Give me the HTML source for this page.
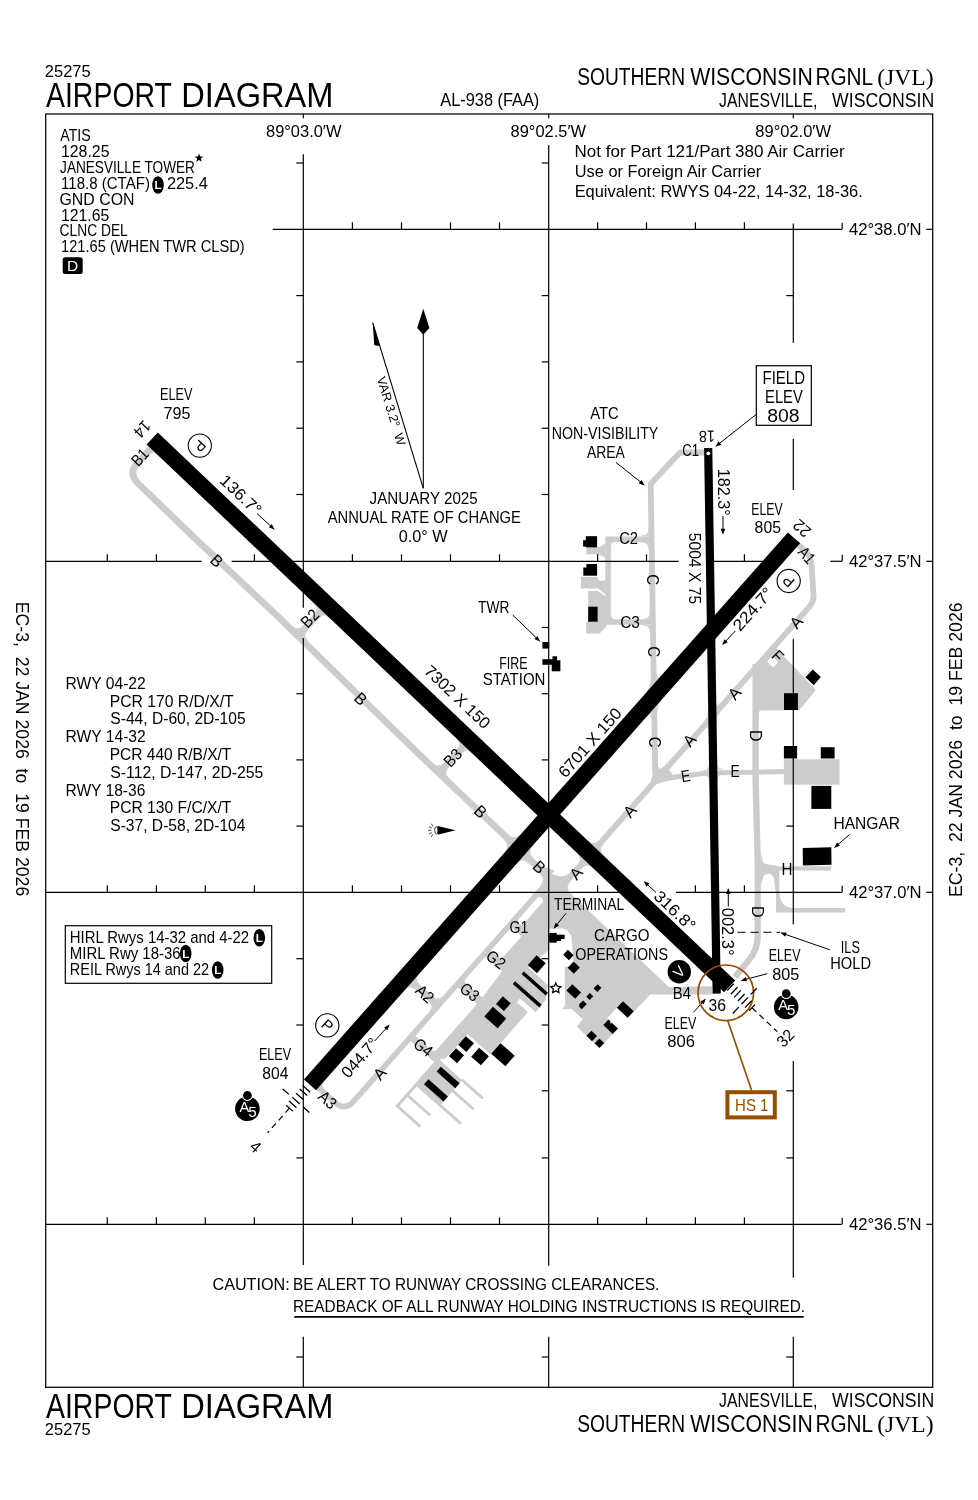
<!DOCTYPE html><html><head><meta charset="utf-8"><title>Airport Diagram JVL</title><style>html,body{margin:0;padding:0;background:#fff}svg text{white-space:pre}</style></head><body><svg width="978" height="1500" viewBox="0 0 978 1500" style="display:block;will-change:transform">
<rect x="0" y="0" width="978" height="1500" fill="#fff"/>
<g stroke-linejoin="round" stroke-linecap="butt">
<path d="M153.11,446.26 L137.83,462.36 Q127.5,473.24 138.29,483.66 L195.14,538.53 L277.38,616.02 L311.06,648.81 L380.39,716.67 L420.53,755.72 L628.61,953.39" stroke="#cccccc" stroke-width="6.7" fill="none" />
<path d="M153.37,450.78 L157,454.22 Q153.37,450.78 149.93,454.4 Z" fill="#cccccc" stroke="#cccccc" stroke-width="0.4"/>
<path d="M297.8,635.9 L323.94,608.36" stroke="#cccccc" stroke-width="6.6" fill="none" />
<path d="M297.72,631.2 L292.64,626.38 Q297.72,631.2 302.53,626.12 Z" fill="#cccccc" stroke="#cccccc" stroke-width="0.4"/>
<path d="M319.41,608.34 L314.33,603.52 Q319.41,608.34 314.59,613.42 Z" fill="#cccccc" stroke="#cccccc" stroke-width="0.4"/>
<path d="M302.5,635.74 L307.58,640.56 Q302.5,635.74 307.32,630.67 Z" fill="#cccccc" stroke="#cccccc" stroke-width="0.4"/>
<path d="M324.2,612.88 L329.27,617.7 Q324.2,612.88 319.38,617.96 Z" fill="#cccccc" stroke="#cccccc" stroke-width="0.4"/>
<path d="M438.65,772.94 L466.47,743.63" stroke="#cccccc" stroke-width="6.6" fill="none" />
<path d="M438.57,768.24 L433.49,763.42 Q438.57,768.24 443.38,763.16 Z" fill="#cccccc" stroke="#cccccc" stroke-width="0.4"/>
<path d="M461.94,743.6 L456.87,738.78 Q461.94,743.6 457.13,748.68 Z" fill="#cccccc" stroke="#cccccc" stroke-width="0.4"/>
<path d="M443.35,772.78 L448.43,777.6 Q443.35,772.78 448.17,767.7 Z" fill="#cccccc" stroke="#cccccc" stroke-width="0.4"/>
<path d="M466.73,748.15 L471.81,752.97 Q466.73,748.15 461.91,753.22 Z" fill="#cccccc" stroke="#cccccc" stroke-width="0.4"/>
<path d="M796.09,542.99 L807.32,552.92 Q811.2,558.5 811.6,566 L813.5,595 Q813.8,600.5 810.34,605.66 L559.88,888.78" stroke="#cccccc" stroke-width="5.8" fill="none" />
<path d="M552.34,876.77 L353.57,1101.46 Q344.96,1111.2 335.22,1102.59 L316.04,1085.63" stroke="#cccccc" stroke-width="5.6" fill="none" />
<path d="M320.22,1085.58 L323.53,1081.84 Q320.22,1085.58 323.97,1088.89 Z" fill="#cccccc" stroke="#cccccc" stroke-width="0.4"/>
<path d="M438.38,1005.59 L409.47,980.02" stroke="#cccccc" stroke-width="6.6" fill="none" />
<path d="M438.54,1001.33 L443.18,996.09 Q438.54,1001.33 433.3,996.7 Z" fill="#cccccc" stroke="#cccccc" stroke-width="0.4"/>
<path d="M413.98,979.6 L418.62,974.36 Q413.98,979.6 419.22,984.24 Z" fill="#cccccc" stroke="#cccccc" stroke-width="0.4"/>
<path d="M434.17,1006.28 L429.53,1011.52 Q434.17,1006.28 428.93,1001.64 Z" fill="#cccccc" stroke="#cccccc" stroke-width="0.4"/>
<path d="M409.6,984.54 L404.97,989.79 Q409.6,984.54 414.85,989.18 Z" fill="#cccccc" stroke="#cccccc" stroke-width="0.4"/>
<path d="M526.81,852.05 L533.34,858.25 Q526.81,852.05 532.77,845.31 Z" fill="#cccccc" stroke="#cccccc" stroke-width="0.4"/>
<path d="M515.05,840.9 L508.52,834.7 Q515.05,840.9 521.02,834.15 Z" fill="#cccccc" stroke="#cccccc" stroke-width="0.4"/>
<path d="M522.37,857.08 L528.9,863.27 Q522.37,857.08 516.41,863.82 Z" fill="#cccccc" stroke="#cccccc" stroke-width="0.4"/>
<path d="M510.61,845.92 L504.08,839.72 Q510.61,845.92 504.65,852.66 Z" fill="#cccccc" stroke="#cccccc" stroke-width="0.4"/>
<path d="M597.85,850.24 L603.15,844.24 Q597.85,850.24 603.65,855.74 Z" fill="#cccccc" stroke="#cccccc" stroke-width="0.4"/>
<path d="M587.11,862.38 L581.81,868.37 Q587.11,862.38 592.91,867.88 Z" fill="#cccccc" stroke="#cccccc" stroke-width="0.4"/>
<path d="M593.64,846.24 L598.94,840.25 Q593.64,846.24 587.83,840.73 Z" fill="#cccccc" stroke="#cccccc" stroke-width="0.4"/>
<path d="M582.9,858.38 L577.6,864.37 Q582.9,858.38 577.09,852.88 Z" fill="#cccccc" stroke="#cccccc" stroke-width="0.4"/>
<path d="M716.46,716.16 L719.77,712.41 Q716.46,716.16 716.54,721.15 Z" fill="#cccccc" stroke="#cccccc" stroke-width="0.4"/>
<path d="M708.5,725.15 L705.19,728.9 Q708.5,725.15 708.58,730.15 Z" fill="#cccccc" stroke="#cccccc" stroke-width="0.4"/>
<path d="M716.33,707.55 L719.64,703.81 Q716.33,707.55 716.25,702.56 Z" fill="#cccccc" stroke="#cccccc" stroke-width="0.4"/>
<path d="M708.37,716.55 L705.05,720.3 Q708.37,716.55 708.29,711.55 Z" fill="#cccccc" stroke="#cccccc" stroke-width="0.4"/>
<path d="M717.3,769.47 L723.28,768.99 Q717.3,769.47 717.2,763.47 Z" fill="#cccccc" stroke="#cccccc" stroke-width="0.4"/>
<path d="M709.21,770.12 L703.23,770.59 Q709.21,770.12 709.11,764.12 Z" fill="#cccccc" stroke="#cccccc" stroke-width="0.4"/>
<path d="M717.38,774.48 L723.36,774 Q717.38,774.48 717.47,780.48 Z" fill="#cccccc" stroke="#cccccc" stroke-width="0.4"/>
<path d="M709.29,775.13 L703.3,775.6 Q709.29,775.13 709.38,781.12 Z" fill="#cccccc" stroke="#cccccc" stroke-width="0.4"/>
<path d="M657.17,704.69 L657.28,711.69 Q657.17,704.69 661.81,699.45 Z" fill="#cccccc" stroke="#cccccc" stroke-width="0.4"/>
<path d="M656.8,680.67 L656.69,673.67 Q656.8,680.67 661.43,675.43 Z" fill="#cccccc" stroke="#cccccc" stroke-width="0.4"/>
<path d="M651.08,711.58 L651.19,718.58 Q651.08,711.58 646.44,716.82 Z" fill="#cccccc" stroke="#cccccc" stroke-width="0.4"/>
<path d="M650.7,687.56 L650.59,680.56 Q650.7,687.56 646.07,692.8 Z" fill="#cccccc" stroke="#cccccc" stroke-width="0.4"/>
<path d="M564.46,887.97 L570.43,881.23 Q564.46,887.97 570.99,894.17 Z" fill="#cccccc" stroke="#cccccc" stroke-width="0.4"/>
<path d="M560.25,883.98 L571.52,871.24 Q560.25,883.98 541.4,866.08 Z" fill="#cccccc" stroke="#cccccc" stroke-width="0.4"/>
<path d="M546.16,879.69 L539.63,873.49 Q546.16,879.69 540.19,886.43 Z" fill="#cccccc" stroke="#cccccc" stroke-width="0.4"/>
<path d="M705,452.5 L680,452.5 L650.7,483.7 L655.2,772" stroke="#cccccc" stroke-width="5.8" fill="none" />
<path d="M652,539.2 L608.1,539.2 L608.1,622 L653,622" stroke="#cccccc" stroke-width="5.6" fill="none" stroke-linejoin="miter"/>
<path d="M648.5,536 L648.5,529 Q648.5,536 641.5,536 Z" fill="#cccccc" stroke="#cccccc" stroke-width="0.4"/>
<path d="M648.5,542 L648.5,549 Q648.5,542 641.5,542 Z" fill="#cccccc" stroke="#cccccc" stroke-width="0.4"/>
<path d="M649.81,619.3 L649.81,612.3 Q649.81,619.3 642.81,619.3 Z" fill="#cccccc" stroke="#cccccc" stroke-width="0.4"/>
<path d="M649.81,625.3 L649.81,632.3 Q649.81,625.3 642.81,625.3 Z" fill="#cccccc" stroke="#cccccc" stroke-width="0.4"/>
<path d="M610.8,541.9 L614.8,541.9 Q610.8,541.9 610.8,545.9 Z" fill="#cccccc" stroke="#cccccc" stroke-width="0.4"/>
<path d="M610.8,619.3 L614.8,619.3 Q610.8,619.3 610.8,615.3 Z" fill="#cccccc" stroke="#cccccc" stroke-width="0.4"/>
<polygon points="586.4,547.4 597.1,547.4 601,546.3 605.5,543.5 605.5,558.3 601,555.6 597.1,554.3 586.4,554.3" fill="#cccccc" />
<polygon points="581,577 597.3,577 598.5,579.8 601.5,581 605.5,580 605.5,594.5 598,588.5 581,588.5" fill="#cccccc" />
<polygon points="588.2,591 597.6,591 606.3,596.7 606.3,626.5 599.7,633.5 586.2,633.5 586.2,621.5 588.2,621.5" fill="#cccccc" />
<path d="M657,779.5 L707,773 L786,771.5" stroke="#cccccc" stroke-width="5" fill="none" />
<polygon points="652.4,766 657.9,766 659.5,769 664.5,766.5 671,772 673,775.5 679,777 663,782.3 655,784.5 650.5,781.5 652.4,776" fill="#cccccc" />
<path d="M755.6,664 L755.6,780 L757.7,860 L757.7,936 Q757.7,950 749,960 L735,977" stroke="#cccccc" stroke-width="6.3" fill="none" />
<path d="M760.5,848 Q761.5,861 764.2,863.6 L779.4,866.4 L831.1,866.2 L831.1,870.4 L779.4,870.6 L779.4,893 Q780.5,906.5 792,908 L845.2,908 L845.2,912.5 L776,912.5 L776,894 L773.7,877 Q771,873.3 768.5,873.9 Q765,874.5 764.2,875 Q762,880 760.5,887 Z" stroke="none" stroke-width="0" fill="#cccccc" />
<polygon points="757,710.4 757,666 772,644 776.6,648.4 815.9,690.1 799.3,710.2" fill="#cccccc" />
<path d="M758.7,710.4 L761.2,710.4 Q758.7,710.4 758.7,712.9 Z" fill="#cccccc" stroke="#cccccc" stroke-width="0.4"/>
<rect x="-4.3" y="-3.9" width="8.6" height="7.8" rx="2" fill="#fff" transform="translate(772.6,661.9) rotate(42)"/>
<polygon points="783.9,759.2 839.6,759.2 839.6,784.7 783.9,784.7" fill="#cccccc" />
</g>
<g>
<polygon points="540.21,864.95 576.48,899.37 548.7,900 548.7,950 527.52,929.58 543.54,890.34 550.55,875.18 554.52,870.68" fill="#cccccc" />
<polygon points="548.7,893 548.7,950 528.44,967.78 445.45,1058.58 441.21,1058.84 433.7,1052.19 416.99,1033.4 547.52,885.85" fill="#cccccc" />
<polygon points="413.5,1034.32 408.86,1039.56 434.33,1062.09 438.97,1056.85" fill="#cccccc" />
<polygon points="527.7,967.11 547.92,985 545.96,999.29 535.78,1012.31 520.05,998.4 516.73,1002.14 527.97,1012.08 490.53,1054.4 467.31,1033.86" fill="#cccccc" />
<polygon points="437.64,1058.35 414.78,1084.19 439.5,1106.05 462.36,1080.21" fill="#cccccc" />
<path d="M440.09,1057.84 L397.02,1106.53" stroke="#cccccc" stroke-width="3" fill="none" />
<path d="M396.23,1105.16 L420.5,1126.63" stroke="#cccccc" stroke-width="2.8" fill="none" />
<path d="M406.1,1094 L430.37,1115.47" stroke="#cccccc" stroke-width="2.8" fill="none" />
<path d="M415.44,1083.44 L461.13,1123.86" stroke="#cccccc" stroke-width="2.8" fill="none" />
<path d="M452.13,1090.26 L473.55,1109.21" stroke="#cccccc" stroke-width="2.8" fill="none" />
<path d="M461.61,1079.55 L483.03,1098.5" stroke="#cccccc" stroke-width="2.8" fill="none" />
<polygon points="539.48,900.37 521.19,921.04 521.49,921.3 539.78,900.63" fill="#fff" stroke="#fff" stroke-width="6.4" stroke-linejoin="round"/>
<polygon points="511.56,930.41 493.94,950.34 500.83,956.43 518.45,936.51" fill="#fff" stroke="#fff" stroke-width="4.4" stroke-linejoin="round"/>
<polygon points="485.72,959.62 466.77,981.04 481.9,994.43 499.2,971.55" fill="#fff" stroke="#fff" stroke-width="4.4" stroke-linejoin="round"/>
<polygon points="458.56,990.33 419.07,1034.97 434.57,1048.69 474.06,1004.05" fill="#fff" stroke="#fff" stroke-width="4.4" stroke-linejoin="round"/>
<polygon points="558.34,882.16 668.82,987 712,986.3 712,994.5 650.23,994.52 627.86,1018.1 616.98,1007.77 607,1018.29 617.88,1028.61 599.43,1048.05 576.95,1026.71 582.76,1019.14 571.17,1008.69 562.2,1009.3 565.2,1004.7 564.6,966.6 573.8,967.2 572.6,949.4 571.4,936 567.5,930.5 563,928.6 548.7,928.8 548.7,880" fill="#cccccc" />
</g>
<g fill="#000">
<polygon points="536.6,955.23 527.86,965.12 536.99,973.2 545.74,963.32" fill="#000" />
<polygon points="523.85,971.46 521.53,974.08 545.65,995.42 547.97,992.79" fill="#000" />
<polygon points="515.11,981.35 512.79,983.97 539.38,1007.49 541.7,1004.87" fill="#000" />
<polygon points="502.78,996.34 496.02,1003.98 503.96,1011 510.72,1003.36" fill="#000" />
<polygon points="492.93,1006.72 484.31,1016.46 497.65,1028.25 506.26,1018.51" fill="#000" />
<polygon points="500.47,1043.17 491.19,1053.65 505.43,1066.24 514.7,1055.76" fill="#000" />
<polygon points="465.82,1036.15 458.14,1044.84 466.3,1052.06 473.99,1043.37" fill="#000" />
<polygon points="456,1048.15 448.98,1056.09 456.99,1063.18 464.02,1055.24" fill="#000" />
<polygon points="479.14,1047.66 471.19,1056.65 480.92,1065.26 488.88,1056.27" fill="#000" />
<polygon points="440.85,1066.79 436.61,1071.59 455.33,1088.15 459.58,1083.36" fill="#000" />
<polygon points="428.44,1079.31 424,1084.33 443.47,1101.56 447.91,1096.54" fill="#000" />
<polygon points="567.86,949.71 573.66,955.22 568.98,960.15 563.17,954.64" fill="#000" />
<polygon points="573.54,961.59 579.78,967.51 573.86,973.74 567.62,967.82" fill="#000" />
<polygon points="572.3,984.25 581.07,992.58 575.15,998.82 566.38,990.49" fill="#000" />
<polygon points="597.62,984.16 601.46,987.81 597.4,992.08 593.56,988.44" fill="#000" />
<polygon points="589.86,993.06 593.27,996.3 589.69,1000.07 586.28,996.83" fill="#000" />
<polygon points="583.05,1000.38 586.75,1003.89 581.72,1009.19 579.25,1006.85 579.26,1004.37" fill="#000" />
<polygon points="623.03,1001.25 633.7,1011.36 627.57,1017.82 616.91,1007.7" fill="#000" />
<polygon points="608.52,1019.59 610.7,1021.66 609.73,1022.67 610.82,1023.71 611.78,1022.69 617.95,1028.54 612.72,1034.05 603.29,1025.11" fill="#000" />
<polygon points="591.41,1030.65 596.99,1035.95 592.04,1041.17 586.45,1035.87" fill="#000" />
<polygon points="599.32,1038.44 604.18,1043.05 599.5,1047.98 594.64,1043.37" fill="#000" />
<rect x="549.3" y="934.7" width="15.3" height="4.3"/>
<rect x="549.3" y="939" width="11.7" height="1.9"/>
<rect x="549.3" y="932.9" width="7.4" height="9.8"/>
<rect x="542.4" y="642" width="6.8" height="6.6"/>
<rect x="542.4" y="659.2" width="13.4" height="5.6"/>
<rect x="551.7" y="660.3" width="8.7" height="11"/>
<rect x="552.5" y="656.3" width="4.6" height="4.2"/>
<rect x="585.8" y="536.2" width="11.3" height="11.2"/>
<rect x="583.1" y="540.2" width="2.9" height="6.4"/>
<rect x="583.3" y="567.5" width="13.8" height="8.2"/>
<rect x="586.4" y="564" width="10.7" height="4"/>
<rect x="588.2" y="606.7" width="9.4" height="15"/>
<polygon points="812.8,669.5 820.8,676.9 813.7,685.2 805.5,677.2" fill="#000" />
<rect x="784" y="693.2" width="13.9" height="16.8"/>
<rect x="783.9" y="746" width="13.2" height="12.5"/>
<rect x="820.8" y="747.2" width="13.8" height="11.3"/>
<rect x="811.4" y="785.9" width="19.9" height="23"/>
<polygon points="802.7,848 831.3,847.3 831.5,864.8 802.9,865.6" fill="#000" />
</g>
<g stroke="#000" stroke-width="1.2" fill="none">
<rect x="45.7" y="114" width="887" height="1273.3" stroke-width="1.25"/>
<line x1="303.3" y1="114" x2="303.3" y2="118.3"/>
<line x1="303.3" y1="154.3" x2="303.3" y2="607.8"/>
<line x1="303.3" y1="638" x2="303.3" y2="1265"/>
<line x1="303.3" y1="1336.7" x2="303.3" y2="1387.3"/>
<line x1="548.7" y1="114" x2="548.7" y2="118.3"/>
<line x1="548.7" y1="145" x2="548.7" y2="1265.7"/>
<line x1="548.7" y1="1336.7" x2="548.7" y2="1387.3"/>
<line x1="793.3" y1="114" x2="793.3" y2="118.3"/>
<line x1="793.3" y1="223.5" x2="793.3" y2="342.7"/>
<line x1="793.3" y1="438.7" x2="793.3" y2="490"/>
<line x1="793.3" y1="639" x2="793.3" y2="924.3"/>
<line x1="793.3" y1="1061" x2="793.3" y2="1277.7"/>
<line x1="793.3" y1="1336.7" x2="793.3" y2="1387.3"/>
<line x1="272.7" y1="229.3" x2="842" y2="229.3"/>
<line x1="45.7" y1="561.3" x2="201.7" y2="561.3"/>
<line x1="231.7" y1="561.3" x2="678.7" y2="561.3"/>
<line x1="713" y1="561.3" x2="765" y2="561.3"/>
<line x1="830.3" y1="561.3" x2="842" y2="561.3"/>
<line x1="45.7" y1="892.3" x2="622" y2="892.3"/>
<line x1="676" y1="892.3" x2="842" y2="892.3"/>
<line x1="45.7" y1="1224.3" x2="842" y2="1224.3"/>
<line x1="926.3" y1="229.3" x2="932.7" y2="229.3"/>
<line x1="842.2" y1="229.3" x2="842.2" y2="222.8"/>
<line x1="926.3" y1="561.3" x2="932.7" y2="561.3"/>
<line x1="842.2" y1="561.3" x2="842.2" y2="554.8"/>
<line x1="926.3" y1="892.3" x2="932.7" y2="892.3"/>
<line x1="842.2" y1="892.3" x2="842.2" y2="885.8"/>
<line x1="926.3" y1="1224.3" x2="932.7" y2="1224.3"/>
<line x1="842.2" y1="1224.3" x2="842.2" y2="1217.8"/>
<line x1="352.4" y1="229.3" x2="352.4" y2="222.3"/>
<line x1="401.5" y1="229.3" x2="401.5" y2="222.3"/>
<line x1="450.5" y1="229.3" x2="450.5" y2="222.3"/>
<line x1="499.5" y1="229.3" x2="499.5" y2="222.3"/>
<line x1="597.6" y1="229.3" x2="597.6" y2="222.3"/>
<line x1="646.5" y1="229.3" x2="646.5" y2="222.3"/>
<line x1="695.4" y1="229.3" x2="695.4" y2="222.3"/>
<line x1="744.4" y1="229.3" x2="744.4" y2="222.3"/>
<line x1="107.3" y1="561.3" x2="107.3" y2="554.3"/>
<line x1="156.4" y1="561.3" x2="156.4" y2="554.3"/>
<line x1="254.4" y1="561.3" x2="254.4" y2="554.3"/>
<line x1="352.4" y1="561.3" x2="352.4" y2="554.3"/>
<line x1="401.5" y1="561.3" x2="401.5" y2="554.3"/>
<line x1="450.5" y1="561.3" x2="450.5" y2="554.3"/>
<line x1="499.5" y1="561.3" x2="499.5" y2="554.3"/>
<line x1="597.6" y1="561.3" x2="597.6" y2="554.3"/>
<line x1="646.5" y1="561.3" x2="646.5" y2="554.3"/>
<line x1="744.4" y1="561.3" x2="744.4" y2="554.3"/>
<line x1="107.3" y1="892.3" x2="107.3" y2="885.3"/>
<line x1="156.4" y1="892.3" x2="156.4" y2="885.3"/>
<line x1="205.3" y1="892.3" x2="205.3" y2="885.3"/>
<line x1="254.4" y1="892.3" x2="254.4" y2="885.3"/>
<line x1="352.4" y1="892.3" x2="352.4" y2="885.3"/>
<line x1="401.5" y1="892.3" x2="401.5" y2="885.3"/>
<line x1="450.5" y1="892.3" x2="450.5" y2="885.3"/>
<line x1="499.5" y1="892.3" x2="499.5" y2="885.3"/>
<line x1="597.6" y1="892.3" x2="597.6" y2="885.3"/>
<line x1="695.4" y1="892.3" x2="695.4" y2="885.3"/>
<line x1="744.4" y1="892.3" x2="744.4" y2="885.3"/>
<line x1="107.3" y1="1224.3" x2="107.3" y2="1217.3"/>
<line x1="156.4" y1="1224.3" x2="156.4" y2="1217.3"/>
<line x1="205.3" y1="1224.3" x2="205.3" y2="1217.3"/>
<line x1="254.4" y1="1224.3" x2="254.4" y2="1217.3"/>
<line x1="352.4" y1="1224.3" x2="352.4" y2="1217.3"/>
<line x1="401.5" y1="1224.3" x2="401.5" y2="1217.3"/>
<line x1="450.5" y1="1224.3" x2="450.5" y2="1217.3"/>
<line x1="499.5" y1="1224.3" x2="499.5" y2="1217.3"/>
<line x1="597.6" y1="1224.3" x2="597.6" y2="1217.3"/>
<line x1="646.5" y1="1224.3" x2="646.5" y2="1217.3"/>
<line x1="695.4" y1="1224.3" x2="695.4" y2="1217.3"/>
<line x1="744.4" y1="1224.3" x2="744.4" y2="1217.3"/>
<line x1="296.3" y1="163" x2="303.3" y2="163"/>
<line x1="296.3" y1="295.6" x2="303.3" y2="295.6"/>
<line x1="296.3" y1="361.9" x2="303.3" y2="361.9"/>
<line x1="296.3" y1="428.2" x2="303.3" y2="428.2"/>
<line x1="296.3" y1="494.5" x2="303.3" y2="494.5"/>
<line x1="296.3" y1="693.7" x2="303.3" y2="693.7"/>
<line x1="296.3" y1="759.9" x2="303.3" y2="759.9"/>
<line x1="296.3" y1="826.1" x2="303.3" y2="826.1"/>
<line x1="296.3" y1="958.7" x2="303.3" y2="958.7"/>
<line x1="296.3" y1="1025" x2="303.3" y2="1025"/>
<line x1="296.3" y1="1157.9" x2="303.3" y2="1157.9"/>
<line x1="296.3" y1="1357" x2="303.3" y2="1357"/>
<line x1="541.7" y1="163" x2="548.7" y2="163"/>
<line x1="541.7" y1="295.6" x2="548.7" y2="295.6"/>
<line x1="541.7" y1="361.9" x2="548.7" y2="361.9"/>
<line x1="541.7" y1="428.2" x2="548.7" y2="428.2"/>
<line x1="541.7" y1="494.5" x2="548.7" y2="494.5"/>
<line x1="541.7" y1="627.5" x2="548.7" y2="627.5"/>
<line x1="541.7" y1="693.7" x2="548.7" y2="693.7"/>
<line x1="541.7" y1="759.9" x2="548.7" y2="759.9"/>
<line x1="541.7" y1="958.7" x2="548.7" y2="958.7"/>
<line x1="541.7" y1="1025" x2="548.7" y2="1025"/>
<line x1="541.7" y1="1090.8" x2="548.7" y2="1090.8"/>
<line x1="541.7" y1="1157.9" x2="548.7" y2="1157.9"/>
<line x1="541.7" y1="1357" x2="548.7" y2="1357"/>
<line x1="786.3" y1="295.6" x2="793.3" y2="295.6"/>
<line x1="786.3" y1="826.1" x2="793.3" y2="826.1"/>
<line x1="786.3" y1="1090.8" x2="793.3" y2="1090.8"/>
<line x1="786.3" y1="1157.9" x2="793.3" y2="1157.9"/>
<line x1="786.3" y1="1357" x2="793.3" y2="1357"/>
</g>
<g stroke="#000" fill="none">
<line x1="152.2" y1="438.5" x2="729.6" y2="986.43" stroke-width="16.3"/>
<line x1="794" y1="537.8" x2="309.98" y2="1084.93" stroke-width="16.3"/>
<line x1="708.2" y1="448" x2="716.7" y2="993.6" stroke-width="8.2"/>
</g>
<circle cx="708.3" cy="453.3" r="1.9" fill="#fff"/>
<text x="44.87" y="76.7" font-family="Liberation Sans" font-size="16.4" fill="#000" textLength="45.82" lengthAdjust="spacingAndGlyphs" >25275</text>
<text x="45.94" y="107.3" font-family="Liberation Sans" font-size="34.9" fill="#000" textLength="126.01" lengthAdjust="spacingAndGlyphs" >AIRPORT</text>
<text x="181.33" y="107.3" font-family="Liberation Sans" font-size="34.9" fill="#000" textLength="152.15" lengthAdjust="spacingAndGlyphs" >DIAGRAM</text>
<text x="577.13" y="85" font-family="Liberation Sans" font-size="23.3" fill="#000" textLength="107.94" lengthAdjust="spacingAndGlyphs" >SOUTHERN</text>
<text x="690.21" y="85" font-family="Liberation Sans" font-size="23.3" fill="#000" textLength="122.52" lengthAdjust="spacingAndGlyphs" >WISCONSIN</text>
<text x="815.39" y="85" font-family="Liberation Sans" font-size="23.3" fill="#000" textLength="57.8" lengthAdjust="spacingAndGlyphs" >RGNL</text>
<text x="877.16" y="85" font-family="Liberation Serif" font-size="23.5" fill="#000" textLength="56.58" lengthAdjust="spacingAndGlyphs" >(JVL)</text>
<text x="719.05" y="107.3" font-family="Liberation Sans" font-size="19.4" fill="#000" textLength="98.37" lengthAdjust="spacingAndGlyphs" >JANESVILLE,</text>
<text x="832.12" y="107.3" font-family="Liberation Sans" font-size="19.4" fill="#000" textLength="102.12" lengthAdjust="spacingAndGlyphs" >WISCONSIN</text>
<text x="440.27" y="106" font-family="Liberation Sans" font-size="17.9" fill="#000" textLength="99.04" lengthAdjust="spacingAndGlyphs" >AL-938 (FAA)</text>
<text x="44.87" y="1435" font-family="Liberation Sans" font-size="16.4" fill="#000" textLength="45.82" lengthAdjust="spacingAndGlyphs" >25275</text>
<text x="45.94" y="1417.7" font-family="Liberation Sans" font-size="34.9" fill="#000" textLength="126.01" lengthAdjust="spacingAndGlyphs" >AIRPORT</text>
<text x="181.33" y="1417.7" font-family="Liberation Sans" font-size="34.9" fill="#000" textLength="152.15" lengthAdjust="spacingAndGlyphs" >DIAGRAM</text>
<text x="577.13" y="1431.7" font-family="Liberation Sans" font-size="23.3" fill="#000" textLength="107.94" lengthAdjust="spacingAndGlyphs" >SOUTHERN</text>
<text x="690.21" y="1431.7" font-family="Liberation Sans" font-size="23.3" fill="#000" textLength="122.52" lengthAdjust="spacingAndGlyphs" >WISCONSIN</text>
<text x="815.39" y="1431.7" font-family="Liberation Sans" font-size="23.3" fill="#000" textLength="57.8" lengthAdjust="spacingAndGlyphs" >RGNL</text>
<text x="877.16" y="1431.7" font-family="Liberation Serif" font-size="23.5" fill="#000" textLength="56.58" lengthAdjust="spacingAndGlyphs" >(JVL)</text>
<text x="719.05" y="1406.7" font-family="Liberation Sans" font-size="19.4" fill="#000" textLength="98.37" lengthAdjust="spacingAndGlyphs" >JANESVILLE,</text>
<text x="832.12" y="1406.7" font-family="Liberation Sans" font-size="19.4" fill="#000" textLength="102.12" lengthAdjust="spacingAndGlyphs" >WISCONSIN</text>
<text transform="translate(15.9,601.75) rotate(90)" font-family="Liberation Sans" font-size="18" fill="#000" textLength="294.52" lengthAdjust="spacingAndGlyphs" xml:space="preserve">EC-3,  22 JAN 2026  to  19 FEB 2026</text>
<text transform="translate(961.7,896.95) rotate(-90)" font-family="Liberation Sans" font-size="18" fill="#000" textLength="294.52" lengthAdjust="spacingAndGlyphs" xml:space="preserve">EC-3,  22 JAN 2026  to  19 FEB 2026</text>
<text x="265.99" y="137.3" font-family="Liberation Sans" font-size="16.4" fill="#000" textLength="75.47" lengthAdjust="spacingAndGlyphs" >89°03.0′W</text>
<text x="510.59" y="137.3" font-family="Liberation Sans" font-size="16.4" fill="#000" textLength="75.47" lengthAdjust="spacingAndGlyphs" >89°02.5′W</text>
<text x="755.28" y="137.3" font-family="Liberation Sans" font-size="16.4" fill="#000" textLength="75.77" lengthAdjust="spacingAndGlyphs" >89°02.0′W</text>
<text x="848.92" y="235.1" font-family="Liberation Sans" font-size="16.4" fill="#000" textLength="72.74" lengthAdjust="spacingAndGlyphs" >42°38.0′N</text>
<text x="848.92" y="567.1" font-family="Liberation Sans" font-size="16.4" fill="#000" textLength="72.74" lengthAdjust="spacingAndGlyphs" >42°37.5′N</text>
<text x="848.92" y="898.1" font-family="Liberation Sans" font-size="16.4" fill="#000" textLength="72.74" lengthAdjust="spacingAndGlyphs" >42°37.0′N</text>
<text x="848.92" y="1230.1" font-family="Liberation Sans" font-size="16.4" fill="#000" textLength="72.74" lengthAdjust="spacingAndGlyphs" >42°36.5′N</text>
<text x="60.27" y="141.3" font-family="Liberation Sans" font-size="16.4" fill="#000" textLength="30.35" lengthAdjust="spacingAndGlyphs" >ATIS</text>
<text x="60.99" y="157.3" font-family="Liberation Sans" font-size="16.4" fill="#000" textLength="48.47" lengthAdjust="spacingAndGlyphs" >128.25</text>
<text x="60.09" y="173" font-family="Liberation Sans" font-size="16.4" fill="#000" textLength="134.84" lengthAdjust="spacingAndGlyphs" >JANESVILLE TOWER</text>
<text x="61.08" y="189" font-family="Liberation Sans" font-size="16.4" fill="#000" textLength="88.83" lengthAdjust="spacingAndGlyphs" >118.8 (CTAF)</text>
<text x="59.5" y="204.7" font-family="Liberation Sans" font-size="16.4" fill="#000" textLength="75.1" lengthAdjust="spacingAndGlyphs" >GND CON</text>
<text x="61" y="220.7" font-family="Liberation Sans" font-size="16.4" fill="#000" textLength="48.26" lengthAdjust="spacingAndGlyphs" >121.65</text>
<text x="59.6" y="236.3" font-family="Liberation Sans" font-size="16.4" fill="#000" textLength="68.16" lengthAdjust="spacingAndGlyphs" >CLNC DEL</text>
<text x="61.09" y="252.3" font-family="Liberation Sans" font-size="16.4" fill="#000" textLength="183.52" lengthAdjust="spacingAndGlyphs" >121.65 (WHEN TWR CLSD)</text>
<text x="166.88" y="189" font-family="Liberation Sans" font-size="16.4" fill="#000" textLength="40.9" lengthAdjust="spacingAndGlyphs" >225.4</text>
<ellipse cx="158" cy="185" rx="5.8" ry="8.8" fill="#000"/>
<text x="158" y="189.3" font-family="Liberation Sans" font-size="11.5" fill="#fff" text-anchor="middle" font-weight="bold">L</text>
<rect x="62.7" y="257.3" width="20" height="16.7" rx="2.5" fill="#000"/>
<text x="72.7" y="271" font-family="Liberation Sans" font-size="15.5" fill="#fff" text-anchor="middle" >D</text>
<polygon points="199,153.4 200.12,156.46 203.37,156.58 200.81,158.59 201.7,161.72 199,159.9 196.3,161.72 197.19,158.59 194.63,156.58 197.88,156.46" fill="#000" stroke="none" stroke-width="0"/>
<text x="574.61" y="157.3" font-family="Liberation Sans" font-size="17" fill="#000" textLength="269.97" lengthAdjust="spacingAndGlyphs" >Not for Part 121/Part 380 Air Carrier</text>
<text x="574.74" y="176.7" font-family="Liberation Sans" font-size="17" fill="#000" textLength="186.53" lengthAdjust="spacingAndGlyphs" >Use or Foreign Air Carrier</text>
<text x="574.65" y="196.7" font-family="Liberation Sans" font-size="17" fill="#000" textLength="288.14" lengthAdjust="spacingAndGlyphs" >Equivalent: RWYS 04-22, 14-32, 18-36.</text>
<text x="369.56" y="503.7" font-family="Liberation Sans" font-size="16.4" fill="#000" textLength="108.17" lengthAdjust="spacingAndGlyphs" >JANUARY 2025</text>
<text x="327.67" y="522.7" font-family="Liberation Sans" font-size="16.4" fill="#000" textLength="193.26" lengthAdjust="spacingAndGlyphs" >ANNUAL RATE OF CHANGE</text>
<text x="398.66" y="541.7" font-family="Liberation Sans" font-size="16.4" fill="#000" textLength="49.09" lengthAdjust="spacingAndGlyphs" >0.0° W</text>
<text transform="translate(391.3,411) rotate(72.9)" x="-0.01" y="4.3" font-family="Liberation Sans" font-size="12.5" fill="#000" text-anchor="middle" textLength="71.1" lengthAdjust="spacingAndGlyphs">VAR 3.2°  W</text>
<text x="159.96" y="400.4" font-family="Liberation Sans" font-size="16.4" fill="#000" textLength="32.39" lengthAdjust="spacingAndGlyphs" >ELEV</text>
<text x="163.57" y="419" font-family="Liberation Sans" font-size="16.4" fill="#000" textLength="26.9" lengthAdjust="spacingAndGlyphs" >795</text>
<text x="751.3" y="514.5" font-family="Liberation Sans" font-size="16.4" fill="#000" textLength="31.26" lengthAdjust="spacingAndGlyphs" >ELEV</text>
<text x="754.61" y="533.2" font-family="Liberation Sans" font-size="16.4" fill="#000" textLength="26.35" lengthAdjust="spacingAndGlyphs" >805</text>
<text x="768.68" y="961" font-family="Liberation Sans" font-size="16.4" fill="#000" textLength="31.77" lengthAdjust="spacingAndGlyphs" >ELEV</text>
<text x="772.3" y="979.5" font-family="Liberation Sans" font-size="16.4" fill="#000" textLength="26.98" lengthAdjust="spacingAndGlyphs" >805</text>
<text x="664.58" y="1029" font-family="Liberation Sans" font-size="16.4" fill="#000" textLength="31.67" lengthAdjust="spacingAndGlyphs" >ELEV</text>
<text x="667.28" y="1047" font-family="Liberation Sans" font-size="16.4" fill="#000" textLength="27.75" lengthAdjust="spacingAndGlyphs" >806</text>
<text x="258.97" y="1060.2" font-family="Liberation Sans" font-size="16.4" fill="#000" textLength="32.08" lengthAdjust="spacingAndGlyphs" >ELEV</text>
<text x="262.32" y="1078.9" font-family="Liberation Sans" font-size="16.4" fill="#000" textLength="26.14" lengthAdjust="spacingAndGlyphs" >804</text>
<rect x="756.3" y="365.7" width="55" height="59.6" fill="#fff" stroke="#000" stroke-width="1.2"/>
<text x="762.47" y="384" font-family="Liberation Sans" font-size="17.9" fill="#000" textLength="42.55" lengthAdjust="spacingAndGlyphs" >FIELD</text>
<text x="765.09" y="402.7" font-family="Liberation Sans" font-size="17.9" fill="#000" textLength="37.67" lengthAdjust="spacingAndGlyphs" >ELEV</text>
<text x="767.16" y="421.7" font-family="Liberation Sans" font-size="17.9" fill="#000" textLength="32.39" lengthAdjust="spacingAndGlyphs" >808</text>
<text x="590.27" y="419.3" font-family="Liberation Sans" font-size="16.4" fill="#000" textLength="28.57" lengthAdjust="spacingAndGlyphs" >ATC</text>
<text x="551.84" y="438.7" font-family="Liberation Sans" font-size="16.4" fill="#000" textLength="106.48" lengthAdjust="spacingAndGlyphs" >NON-VISIBILITY</text>
<text x="586.97" y="457.7" font-family="Liberation Sans" font-size="16.4" fill="#000" textLength="37.95" lengthAdjust="spacingAndGlyphs" >AREA</text>
<text x="477.99" y="613.3" font-family="Liberation Sans" font-size="16.4" fill="#000" textLength="31.35" lengthAdjust="spacingAndGlyphs" >TWR</text>
<text x="499.28" y="669.3" font-family="Liberation Sans" font-size="16.4" fill="#000" textLength="28.25" lengthAdjust="spacingAndGlyphs" >FIRE</text>
<text x="482.64" y="685.3" font-family="Liberation Sans" font-size="16.4" fill="#000" textLength="62.84" lengthAdjust="spacingAndGlyphs" >STATION</text>
<text x="553.99" y="910" font-family="Liberation Sans" font-size="16.4" fill="#000" textLength="70.17" lengthAdjust="spacingAndGlyphs" >TERMINAL</text>
<text x="594.03" y="940.5" font-family="Liberation Sans" font-size="16.4" fill="#000" textLength="55.49" lengthAdjust="spacingAndGlyphs" >CARGO</text>
<text x="575.33" y="959.7" font-family="Liberation Sans" font-size="16.4" fill="#000" textLength="92.62" lengthAdjust="spacingAndGlyphs" >OPERATIONS</text>
<text x="833.42" y="829.3" font-family="Liberation Sans" font-size="16.4" fill="#000" textLength="66.6" lengthAdjust="spacingAndGlyphs" >HANGAR</text>
<text x="840.83" y="953" font-family="Liberation Sans" font-size="16.4" fill="#000" textLength="19.05" lengthAdjust="spacingAndGlyphs" >ILS</text>
<text x="830.3" y="969.4" font-family="Liberation Sans" font-size="16.4" fill="#000" textLength="40.7" lengthAdjust="spacingAndGlyphs" >HOLD</text>
<text x="781.45" y="874.5" font-family="Liberation Sans" font-size="16.4" fill="#000" textLength="10.99" lengthAdjust="spacingAndGlyphs" >H</text>
<text x="672.78" y="998.5" font-family="Liberation Sans" font-size="16.4" fill="#000" textLength="18.15" lengthAdjust="spacingAndGlyphs" >B4</text>
<text x="708.6" y="1011.3" font-family="Liberation Sans" font-size="16.4" fill="#000" textLength="17.49" lengthAdjust="spacingAndGlyphs" >36</text>
<text x="682.33" y="456.3" font-family="Liberation Sans" font-size="16.4" fill="#000" textLength="16.81" lengthAdjust="spacingAndGlyphs" >C1</text>
<text x="619.25" y="544.3" font-family="Liberation Sans" font-size="16.4" fill="#000" textLength="18.79" lengthAdjust="spacingAndGlyphs" >C2</text>
<text x="620.21" y="627.6" font-family="Liberation Sans" font-size="16.4" fill="#000" textLength="19.76" lengthAdjust="spacingAndGlyphs" >C3</text>
<text x="509.59" y="933.3" font-family="Liberation Sans" font-size="16.4" fill="#000" textLength="18.8" lengthAdjust="spacingAndGlyphs" >G1</text>
<text x="65.42" y="689" font-family="Liberation Sans" font-size="16" fill="#000" textLength="80.36" lengthAdjust="spacingAndGlyphs" >RWY 04-22</text>
<text x="109.71" y="706.7" font-family="Liberation Sans" font-size="16" fill="#000" textLength="123.95" lengthAdjust="spacingAndGlyphs" >PCR 170 R/D/X/T</text>
<text x="110.29" y="724" font-family="Liberation Sans" font-size="16" fill="#000" textLength="135.36" lengthAdjust="spacingAndGlyphs" >S-44, D-60, 2D-105</text>
<text x="65.42" y="742.3" font-family="Liberation Sans" font-size="16" fill="#000" textLength="80.36" lengthAdjust="spacingAndGlyphs" >RWY 14-32</text>
<text x="109.73" y="760" font-family="Liberation Sans" font-size="16" fill="#000" textLength="121.63" lengthAdjust="spacingAndGlyphs" >PCR 440 R/B/X/T</text>
<text x="110.29" y="777.7" font-family="Liberation Sans" font-size="16" fill="#000" textLength="153.07" lengthAdjust="spacingAndGlyphs" >S-112, D-147, 2D-255</text>
<text x="65.43" y="795.7" font-family="Liberation Sans" font-size="16" fill="#000" textLength="79.95" lengthAdjust="spacingAndGlyphs" >RWY 18-36</text>
<text x="109.72" y="813.3" font-family="Liberation Sans" font-size="16" fill="#000" textLength="121.64" lengthAdjust="spacingAndGlyphs" >PCR 130 F/C/X/T</text>
<text x="110.29" y="831" font-family="Liberation Sans" font-size="16" fill="#000" textLength="135.16" lengthAdjust="spacingAndGlyphs" >S-37, D-58, 2D-104</text>
<rect x="65.3" y="925.7" width="206.4" height="57.6" fill="none" stroke="#000" stroke-width="1.2"/>
<text x="69.78" y="942.7" font-family="Liberation Sans" font-size="16.4" fill="#000" textLength="179.27" lengthAdjust="spacingAndGlyphs" >HIRL Rwys 14-32 and 4-22</text>
<ellipse cx="259.3" cy="937.7" rx="5.8" ry="8.8" fill="#000"/>
<text x="259.3" y="942" font-family="Liberation Sans" font-size="11.5" fill="#fff" text-anchor="middle" font-weight="bold">L</text>
<text x="69.78" y="959" font-family="Liberation Sans" font-size="16.4" fill="#000" textLength="110.88" lengthAdjust="spacingAndGlyphs" >MIRL Rwy 18-36</text>
<ellipse cx="185.7" cy="953.5" rx="5.8" ry="8.8" fill="#000"/>
<text x="185.7" y="957.8" font-family="Liberation Sans" font-size="11.5" fill="#fff" text-anchor="middle" font-weight="bold">L</text>
<text x="69.82" y="975" font-family="Liberation Sans" font-size="16.4" fill="#000" textLength="139.2" lengthAdjust="spacingAndGlyphs" >REIL Rwys 14 and 22</text>
<ellipse cx="217.7" cy="970" rx="5.8" ry="8.8" fill="#000"/>
<text x="217.7" y="974.3" font-family="Liberation Sans" font-size="11.5" fill="#fff" text-anchor="middle" font-weight="bold">L</text>
<text x="212.48" y="1290" font-family="Liberation Sans" font-size="17" fill="#000" textLength="77.3" lengthAdjust="spacingAndGlyphs" >CAUTION:</text>
<text x="293.06" y="1290" font-family="Liberation Sans" font-size="17" fill="#000" textLength="366.33" lengthAdjust="spacingAndGlyphs" >BE ALERT TO RUNWAY CROSSING CLEARANCES.</text>
<text x="293.05" y="1311.7" font-family="Liberation Sans" font-size="17" fill="#000" textLength="512.04" lengthAdjust="spacingAndGlyphs" >READBACK OF ALL RUNWAY HOLDING INSTRUCTIONS IS REQUIRED.</text>
<line x1="294.3" y1="1316.9" x2="803.7" y2="1316.9" stroke="#000" stroke-width="1.7" />
<text transform="translate(142,429.4) rotate(133.5)" x="-0.35" y="5.64" font-family="Liberation Sans" font-size="16.4" fill="#000" text-anchor="middle" textLength="16.57" lengthAdjust="spacingAndGlyphs">14</text>
<text transform="translate(785.3,1038.2) rotate(-46.5)" x="0.1" y="5.64" font-family="Liberation Sans" font-size="16.4" fill="#000" text-anchor="middle" textLength="17.38" lengthAdjust="spacingAndGlyphs">32</text>
<text transform="translate(802,528.3) rotate(-138.5)" x="0" y="5.64" font-family="Liberation Sans" font-size="16.4" fill="#000" text-anchor="middle" textLength="17.59" lengthAdjust="spacingAndGlyphs">22</text>
<text transform="translate(255.5,1146.6) rotate(41.5)" x="0.05" y="5.64" font-family="Liberation Sans" font-size="16.4" fill="#000" text-anchor="middle" textLength="8.83" lengthAdjust="spacingAndGlyphs">4</text>
<text transform="translate(706.7,436.3) rotate(179.1)" x="-0.23" y="5.64" font-family="Liberation Sans" font-size="16.4" fill="#000" text-anchor="middle" textLength="15.69" lengthAdjust="spacingAndGlyphs">18</text>
<text transform="translate(140,457) rotate(-46.5)" x="-0.23" y="5.64" font-family="Liberation Sans" font-size="16.4" fill="#000" text-anchor="middle" textLength="16.8" lengthAdjust="spacingAndGlyphs">B1</text>
<text transform="translate(310,618.3) rotate(-46.5)" x="-0.24" y="5.64" font-family="Liberation Sans" font-size="16.4" fill="#000" text-anchor="middle" textLength="18.5" lengthAdjust="spacingAndGlyphs">B2</text>
<text transform="translate(453,757.4) rotate(-46.5)" x="-0.29" y="5.64" font-family="Liberation Sans" font-size="16.4" fill="#000" text-anchor="middle" textLength="18.39" lengthAdjust="spacingAndGlyphs">B3</text>
<text transform="translate(216.8,561) rotate(43.5)" x="-0.23" y="5.64" font-family="Liberation Sans" font-size="16.4" fill="#000" text-anchor="middle" textLength="10.65" lengthAdjust="spacingAndGlyphs">B</text>
<text transform="translate(361,699) rotate(43.5)" x="-0.23" y="5.64" font-family="Liberation Sans" font-size="16.4" fill="#000" text-anchor="middle" textLength="10.65" lengthAdjust="spacingAndGlyphs">B</text>
<text transform="translate(480.6,811.8) rotate(43.5)" x="-0.23" y="5.64" font-family="Liberation Sans" font-size="16.4" fill="#000" text-anchor="middle" textLength="10.65" lengthAdjust="spacingAndGlyphs">B</text>
<text transform="translate(539.3,867.2) rotate(43.5)" x="-0.23" y="5.64" font-family="Liberation Sans" font-size="16.4" fill="#000" text-anchor="middle" textLength="10.65" lengthAdjust="spacingAndGlyphs">B</text>
<text transform="translate(796.3,622.3) rotate(-48.5)" x="0" y="5.64" font-family="Liberation Sans" font-size="16.4" fill="#000" text-anchor="middle" textLength="10.56" lengthAdjust="spacingAndGlyphs">A</text>
<text transform="translate(734.5,693.3) rotate(-48.5)" x="0" y="5.64" font-family="Liberation Sans" font-size="16.4" fill="#000" text-anchor="middle" textLength="10.56" lengthAdjust="spacingAndGlyphs">A</text>
<text transform="translate(689.4,740.3) rotate(-48.5)" x="0" y="5.64" font-family="Liberation Sans" font-size="16.4" fill="#000" text-anchor="middle" textLength="10.56" lengthAdjust="spacingAndGlyphs">A</text>
<text transform="translate(629.8,811) rotate(-48.5)" x="0" y="5.64" font-family="Liberation Sans" font-size="16.4" fill="#000" text-anchor="middle" textLength="10.56" lengthAdjust="spacingAndGlyphs">A</text>
<text transform="translate(576,873.4) rotate(-48.5)" x="0" y="5.64" font-family="Liberation Sans" font-size="16.4" fill="#000" text-anchor="middle" textLength="10.56" lengthAdjust="spacingAndGlyphs">A</text>
<text transform="translate(379.7,1073.5) rotate(-48.5)" x="0" y="5.64" font-family="Liberation Sans" font-size="16.4" fill="#000" text-anchor="middle" textLength="10.56" lengthAdjust="spacingAndGlyphs">A</text>
<text transform="translate(806.5,555) rotate(48)" x="0.32" y="5.64" font-family="Liberation Sans" font-size="16.4" fill="#000" text-anchor="middle" textLength="16.69" lengthAdjust="spacingAndGlyphs">A1</text>
<text transform="translate(424.6,993.7) rotate(41.5)" x="0.36" y="5.64" font-family="Liberation Sans" font-size="16.4" fill="#000" text-anchor="middle" textLength="18.28" lengthAdjust="spacingAndGlyphs">A2</text>
<text transform="translate(327.3,1099.7) rotate(41.5)" x="0.31" y="5.64" font-family="Liberation Sans" font-size="16.4" fill="#000" text-anchor="middle" textLength="18.18" lengthAdjust="spacingAndGlyphs">A3</text>
<text transform="translate(496,959.5) rotate(38)" x="0" y="5.64" font-family="Liberation Sans" font-size="16.4" fill="#000" text-anchor="middle" textLength="19.47" lengthAdjust="spacingAndGlyphs">G2</text>
<text transform="translate(469.7,992) rotate(38)" x="-0.05" y="5.64" font-family="Liberation Sans" font-size="16.4" fill="#000" text-anchor="middle" textLength="19.37" lengthAdjust="spacingAndGlyphs">G3</text>
<text transform="translate(423.3,1047.5) rotate(38)" x="-0.15" y="5.64" font-family="Liberation Sans" font-size="16.4" fill="#000" text-anchor="middle" textLength="19.14" lengthAdjust="spacingAndGlyphs">G4</text>
<text transform="translate(652.3,579.7) rotate(90)" x="-0.1" y="5.64" font-family="Liberation Sans" font-size="16.4" fill="#000" text-anchor="middle" textLength="10.83" lengthAdjust="spacingAndGlyphs">C</text>
<text transform="translate(653.4,651.7) rotate(90)" x="-0.1" y="5.64" font-family="Liberation Sans" font-size="16.4" fill="#000" text-anchor="middle" textLength="10.83" lengthAdjust="spacingAndGlyphs">C</text>
<text transform="translate(654.8,742.3) rotate(90)" x="-0.1" y="5.64" font-family="Liberation Sans" font-size="16.4" fill="#000" text-anchor="middle" textLength="10.83" lengthAdjust="spacingAndGlyphs">C</text>
<text transform="translate(755.5,736) rotate(90)" x="-0.27" y="5.64" font-family="Liberation Sans" font-size="16.4" fill="#000" text-anchor="middle" textLength="11.58" lengthAdjust="spacingAndGlyphs">D</text>
<text transform="translate(758.1,912) rotate(90)" x="-0.27" y="5.64" font-family="Liberation Sans" font-size="16.4" fill="#000" text-anchor="middle" textLength="11.58" lengthAdjust="spacingAndGlyphs">D</text>
<text transform="translate(686,776) rotate(-9)" x="-0.27" y="5.64" font-family="Liberation Sans" font-size="16.4" fill="#000" text-anchor="middle" textLength="9.23" lengthAdjust="spacingAndGlyphs">E</text>
<text transform="translate(735.3,771.5) rotate(0)" x="-0.27" y="5.64" font-family="Liberation Sans" font-size="16.4" fill="#000" text-anchor="middle" textLength="9.23" lengthAdjust="spacingAndGlyphs">E</text>
<text transform="translate(778,656.2) rotate(45)" x="-0.32" y="5.64" font-family="Liberation Sans" font-size="16.4" fill="#000" text-anchor="middle" textLength="9.37" lengthAdjust="spacingAndGlyphs">F</text>
<text transform="translate(241,495) rotate(43.5)" x="-0.14" y="5.64" font-family="Liberation Sans" font-size="16.4" fill="#000" text-anchor="middle" textLength="50.36" lengthAdjust="spacingAndGlyphs">136.7°</text>
<text transform="translate(674.7,910.5) rotate(43.5)" x="0.19" y="5.64" font-family="Liberation Sans" font-size="16.4" fill="#000" text-anchor="middle" textLength="50.3" lengthAdjust="spacingAndGlyphs">316.8°</text>
<text transform="translate(752.8,609.2) rotate(-48.5)" x="0.09" y="5.64" font-family="Liberation Sans" font-size="16.4" fill="#000" text-anchor="middle" textLength="51.66" lengthAdjust="spacingAndGlyphs">224.7°</text>
<text transform="translate(359.7,1057.9) rotate(-48.5)" x="0.17" y="5.64" font-family="Liberation Sans" font-size="16.4" fill="#000" text-anchor="middle" textLength="47.01" lengthAdjust="spacingAndGlyphs">044.7°</text>
<text transform="translate(724,492.4) rotate(90)" x="-0.13" y="5.64" font-family="Liberation Sans" font-size="16.4" fill="#000" text-anchor="middle" textLength="47.01" lengthAdjust="spacingAndGlyphs">182.3°</text>
<text transform="translate(727.2,931.5) rotate(90)" x="0.17" y="5.64" font-family="Liberation Sans" font-size="16.4" fill="#000" text-anchor="middle" textLength="47.63" lengthAdjust="spacingAndGlyphs">002.3°</text>
<text transform="translate(694.5,568.4) rotate(90)" x="0.02" y="5.64" font-family="Liberation Sans" font-size="16.4" fill="#000" text-anchor="middle" textLength="71.28" lengthAdjust="spacingAndGlyphs">5004 X 75</text>
<text transform="translate(457.5,697) rotate(43.5)" x="-0.1" y="5.64" font-family="Liberation Sans" font-size="16.4" fill="#000" text-anchor="middle" textLength="83.47" lengthAdjust="spacingAndGlyphs">7302 X 150</text>
<text transform="translate(590,742.5) rotate(-48.5)" x="-0.1" y="5.64" font-family="Liberation Sans" font-size="16.4" fill="#000" text-anchor="middle" textLength="86.52" lengthAdjust="spacingAndGlyphs">6701 X 150</text>
<line x1="257" y1="513.5" x2="271.01" y2="526.32" stroke="#000" stroke-width="1.0" />
<polygon points="274.7,529.7 268.79,527.27 271.76,524.03" fill="#000" />
<line x1="656" y1="892.5" x2="647.27" y2="884.4" stroke="#000" stroke-width="1.0" />
<polygon points="643.6,881 649.5,883.47 646.5,886.69" fill="#000" />
<line x1="735.3" y1="631" x2="725.44" y2="641.38" stroke="#000" stroke-width="1.0" />
<polygon points="722,645 724.54,639.13 727.73,642.17" fill="#000" />
<line x1="374.7" y1="1041" x2="386.35" y2="1028.11" stroke="#000" stroke-width="1.0" />
<polygon points="389.7,1024.4 387.31,1030.33 384.05,1027.38" fill="#000" />
<line x1="723" y1="516" x2="723" y2="529.8" stroke="#000" stroke-width="1.0" />
<polygon points="723,534.8 720.8,528.8 725.2,528.8" fill="#000" />
<line x1="728.3" y1="906.5" x2="728.3" y2="893.1" stroke="#000" stroke-width="1.0" />
<polygon points="728.3,888.1 730.5,894.1 726.1,894.1" fill="#000" />
<line x1="756.3" y1="414.3" x2="719.22" y2="443.6" stroke="#000" stroke-width="1.0" />
<polygon points="715.3,446.7 718.64,441.25 721.37,444.71" fill="#000" />
<line x1="616" y1="462.5" x2="640.89" y2="482.29" stroke="#000" stroke-width="1.0" />
<polygon points="644.8,485.4 638.73,483.39 641.47,479.94" fill="#000" />
<line x1="512.7" y1="615" x2="536.71" y2="638.22" stroke="#000" stroke-width="1.0" />
<polygon points="540.3,641.7 534.46,639.11 537.52,635.95" fill="#000" />
<line x1="566" y1="913.3" x2="556.64" y2="924.91" stroke="#000" stroke-width="1.0" />
<polygon points="553.5,928.8 555.55,922.75 558.98,925.51" fill="#000" />
<line x1="849.5" y1="834.6" x2="837.78" y2="844.73" stroke="#000" stroke-width="1.0" />
<polygon points="834,848 837.1,842.41 839.98,845.74" fill="#000" />
<line x1="829.9" y1="949.8" x2="784.93" y2="934.24" stroke="#000" stroke-width="1.0" />
<polygon points="780.2,932.6 786.59,932.48 785.15,936.64" fill="#000" />
<line x1="767.3" y1="973.7" x2="745.44" y2="979.43" stroke="#000" stroke-width="1.0" />
<polygon points="740.6,980.7 745.85,977.05 746.96,981.31" fill="#000" />
<line x1="693.5" y1="1012.3" x2="702.64" y2="1002.21" stroke="#000" stroke-width="1.0" />
<polygon points="706,998.5 703.6,1004.42 700.34,1001.47" fill="#000" />
<line x1="737.5" y1="932.3" x2="780" y2="932.3" stroke="#000" stroke-width="1" stroke-dasharray="8,5"/>
<line x1="423.3" y1="333" x2="423.3" y2="488.3" stroke="#000" stroke-width="1.1" />
<polygon points="423.3,308.7 429.4,328 423.3,334.7 417.2,328" fill="#000" />
<line x1="423.3" y1="488.3" x2="372.7" y2="322.7" stroke="#000" stroke-width="1.1" />
<polygon points="372.7,322.7 374.3,345.3 379.8,345.9" fill="#000" />
<circle cx="199.8" cy="445.6" r="11.6" fill="#fff" stroke="#000" stroke-width="1.1"/>
<text transform="translate(199.8,445.6) rotate(133.5)" x="0" y="5.16" font-family="Liberation Sans" font-size="15" fill="#000" text-anchor="middle">P</text>
<circle cx="788.7" cy="581" r="11.6" fill="#fff" stroke="#000" stroke-width="1.1"/>
<text transform="translate(788.7,581) rotate(-138.5)" x="0" y="5.16" font-family="Liberation Sans" font-size="15" fill="#000" text-anchor="middle">P</text>
<circle cx="327.3" cy="1025.4" r="11.6" fill="#fff" stroke="#000" stroke-width="1.1"/>
<text transform="translate(327.3,1025.4) rotate(41.5)" x="0" y="5.16" font-family="Liberation Sans" font-size="15" fill="#000" text-anchor="middle">P</text>
<circle cx="679.3" cy="971.8" r="11.7" fill="#000"/>
<text transform="translate(679.3,971.8) rotate(-46.5)" x="0" y="5.16" font-family="Liberation Sans" font-size="15" fill="#fff" text-anchor="middle">V</text>
<circle cx="247.4" cy="1095.5" r="5.6" fill="#fff"/>
<circle cx="247.4" cy="1108.7" r="12.3" fill="#000"/>
<circle cx="247.4" cy="1095.5" r="5.4" fill="#fff"/>
<circle cx="247.4" cy="1095.5" r="4.4" fill="#000"/>
<text x="239.47" y="1112.1" font-family="Liberation Sans" font-size="14.8" fill="#fff" textLength="9.76" lengthAdjust="spacingAndGlyphs" >A</text>
<text x="248.29" y="1116.5" font-family="Liberation Sans" font-size="15.3" fill="#fff" textLength="8.45" lengthAdjust="spacingAndGlyphs" >5</text>
<circle cx="786.2" cy="993.7" r="5.6" fill="#fff"/>
<circle cx="786.2" cy="1006.9" r="12.3" fill="#000"/>
<circle cx="786.2" cy="993.7" r="5.4" fill="#fff"/>
<circle cx="786.2" cy="993.7" r="4.4" fill="#000"/>
<text x="778.27" y="1010.3" font-family="Liberation Sans" font-size="14.8" fill="#fff" textLength="9.76" lengthAdjust="spacingAndGlyphs" >A</text>
<text x="787.09" y="1014.7" font-family="Liberation Sans" font-size="15.3" fill="#fff" textLength="8.45" lengthAdjust="spacingAndGlyphs" >5</text>
<polygon points="555.8,983 557.33,986.2 560.84,986.66 558.27,989.1 558.92,992.59 555.8,990.9 552.68,992.59 553.33,989.1 550.76,986.66 554.27,986.2" fill="#fff" stroke="#000" stroke-width="1.3"/>
<polygon points="437.5,826 437.5,834.7 455.7,830.2" fill="#000" />
<ellipse cx="436.3" cy="830.3" rx="1.6" ry="3.6" fill="#fff" stroke="#000" stroke-width="0.8"/>
<line x1="433" y1="834.2" x2="431.25" y2="836.93" stroke="#000" stroke-width="0.7" />
<line x1="431.9" y1="832.55" x2="428.87" y2="834.12" stroke="#000" stroke-width="0.7" />
<line x1="431.5" y1="830.3" x2="428" y2="830.3" stroke="#000" stroke-width="0.7" />
<line x1="431.9" y1="828.05" x2="428.87" y2="826.47" stroke="#000" stroke-width="0.7" />
<line x1="433" y1="826.4" x2="431.25" y2="823.67" stroke="#000" stroke-width="0.7" />
<circle cx="725.8" cy="992.8" r="27.8" fill="none" stroke="#964f00" stroke-width="1.7"/>
<line x1="727.7" y1="1020.5" x2="751.5" y2="1090" stroke="#964f00" stroke-width="1.7" />
<rect x="727.4" y="1092.2" width="47.4" height="25.2" fill="#fff" stroke="#964f00" stroke-width="4"/>
<text x="735.07" y="1110.7" font-family="Liberation Sans" font-size="16.4" fill="#964f00" textLength="33.36" lengthAdjust="spacingAndGlyphs" >HS 1</text>
<line x1="733.7" y1="983.71" x2="727.09" y2="990.67" stroke="#000" stroke-width="1.3" />
<line x1="737.47" y1="987.29" x2="730.86" y2="994.25" stroke="#000" stroke-width="1.3" />
<line x1="740.74" y1="990.38" x2="734.13" y2="997.35" stroke="#000" stroke-width="1.3" />
<line x1="744.58" y1="994.03" x2="737.97" y2="1000.99" stroke="#000" stroke-width="1.3" />
<line x1="748.06" y1="997.34" x2="741.45" y2="1004.3" stroke="#000" stroke-width="1.3" />
<line x1="751.62" y1="1000.71" x2="745.01" y2="1007.67" stroke="#000" stroke-width="1.3" />
<line x1="756.74" y1="988.2" x2="750.75" y2="994.51" stroke="#000" stroke-width="1.3" />
<line x1="738.77" y1="1007.13" x2="732.78" y2="1013.44" stroke="#000" stroke-width="1.3" />
<line x1="754.9" y1="1004.65" x2="749.12" y2="1010.75" stroke="#000" stroke-width="1.3" />
<line x1="752.01" y1="1007.7" x2="777.25" y2="1031.66" stroke="#000" stroke-width="1.2" stroke-dasharray="6,4.2"/>
<line x1="302.72" y1="1085.59" x2="310.21" y2="1092.22" stroke="#000" stroke-width="1.3" />
<line x1="299.74" y1="1088.96" x2="307.23" y2="1095.59" stroke="#000" stroke-width="1.3" />
<line x1="296.03" y1="1093.16" x2="303.52" y2="1099.78" stroke="#000" stroke-width="1.3" />
<line x1="292.32" y1="1097.35" x2="299.81" y2="1103.98" stroke="#000" stroke-width="1.3" />
<line x1="289.01" y1="1101.09" x2="296.5" y2="1107.72" stroke="#000" stroke-width="1.3" />
<line x1="282.81" y1="1088.93" x2="288.95" y2="1094.37" stroke="#000" stroke-width="1.3" />
<line x1="303.18" y1="1106.96" x2="309.32" y2="1112.39" stroke="#000" stroke-width="1.3" />
<line x1="286.07" y1="1105.17" x2="292.81" y2="1111.13" stroke="#000" stroke-width="1.3" />
<line x1="289.44" y1="1108.15" x2="267.57" y2="1132.87" stroke="#000" stroke-width="1.2" stroke-dasharray="6,4.2"/>
</svg></body></html>
